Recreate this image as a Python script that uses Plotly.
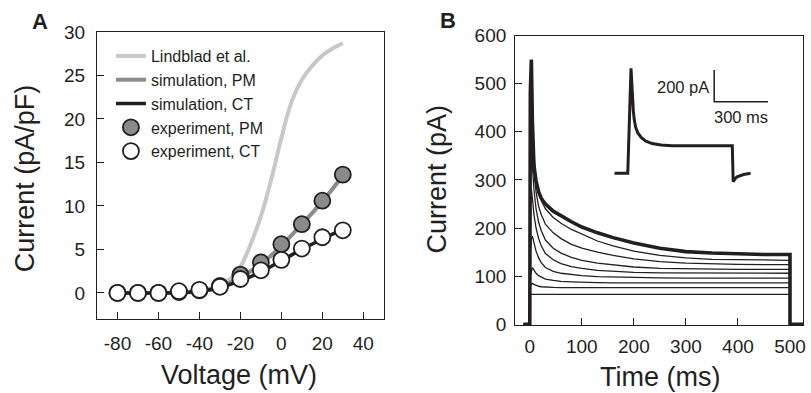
import plotly.graph_objects as go

# ---------------- Panel A data (I-V relations) ----------------
voltage = [-80, -70, -60, -50, -40, -30, -20, -10, 0, 10, 20, 30]
exp_pm = [0.0, 0.0, 0.0, 0.1, 0.3, 0.8, 2.1, 3.5, 5.6, 7.9, 10.6, 13.6]
exp_ct = [0.0, 0.0, 0.0, 0.2, 0.35, 0.7, 1.6, 2.6, 3.8, 5.1, 6.4, 7.2]
sim_pm = [0.0, 0.0, 0.0, 0.05, 0.2, 0.7, 1.8, 3.3, 5.4, 7.9, 10.5, 13.5]
sim_ct = [0.0, 0.0, 0.0, 0.05, 0.2, 0.6, 1.4, 2.4, 3.7, 5.0, 6.2, 7.3]
lind_v = [-40, -35, -30, -25, -20, -15, -10, -5, 0, 5, 10, 15, 20, 25, 30]
lind_i = [0.3, 0.5, 0.9, 1.6, 3.0, 5.6, 8.8, 13.0, 17.8, 22.0, 24.5, 26.1, 27.3, 28.1, 28.7]
a_xticks = [-80, -60, -40, -20, 0, 20, 40]
a_xlabels = ["-80", "-60", "-40", "-20", "0", "20", "40"]
a_yticks = [0, 5, 10, 15, 20, 25, 30]

# ---------------- Panel B data (current traces) ----------------
t_grid = [1, 3, 5, 8, 12, 17, 22, 30, 45, 60, 80, 100, 130, 160, 200, 250, 300, 350, 400, 450, 497]
traces_b = [
    [62, 62, 62, 62, 62, 62, 62, 62, 62, 62, 62, 62, 62, 62, 62, 62, 62, 62, 62, 62, 62],
    [80, 84, 85, 83, 81, 79, 78, 77, 76.5, 76, 76, 76, 76, 76, 76, 76, 76, 76, 76, 76, 76],
    [100, 112, 118, 113, 106, 101, 98, 94, 91, 89, 88, 87, 86.5, 86, 86, 86, 86, 86, 86, 86, 86],
    [150, 178, 183, 168, 152, 138, 128, 118, 110, 106, 103, 101, 99, 98, 97, 96.5, 96, 96, 96, 96, 96],
    [230, 281, 262, 228, 200, 178, 163, 147, 134, 126, 120, 116, 112, 110, 108, 107, 106.5, 106, 106, 106, 106],
    [300, 360, 330, 280, 240, 212, 195, 175, 158, 148, 139, 133, 127, 123, 119, 116, 115, 114.5, 114, 114, 114],
    [360, 430, 385, 320, 275, 245, 228, 208, 190, 178, 166, 158, 150, 143, 136, 130, 127, 125, 124.5, 124, 124],
    [420, 490, 430, 350, 300, 272, 257, 240, 222, 210, 197, 187, 173, 163, 152, 143, 138, 135, 134, 133, 133],
    [480, 550, 420, 330, 298, 275, 262, 250, 235, 225, 213, 202, 190, 180, 169, 158, 151, 148, 146, 145, 145],
]
t_pre = [-12, 0]
t_post = [500, 500, 525]
b_xticks = [0, 100, 200, 300, 400, 500]
b_yticks = [0, 100, 200, 300, 400, 500, 600]

# inset trace (ms, pA) and scale bar
inset_t = [0, 74, 92, 96, 100, 105, 110, 118, 130, 150, 175, 210, 259, 320, 657, 662, 672, 684, 720, 759]
inset_i = [0, 0, 665, 560, 470, 395, 340, 292, 255, 225, 203, 188, 179, 175, 175, -53, -35, -22, -8, 0]
bar_t0, bar_i0 = 556, 453
bar_len_t, bar_len_i = 300, 200

# ---------------- styling ----------------
INK = "#231f20"
FONT = "Liberation Sans, Arial, Helvetica, sans-serif"
W, H = 811, 393
ML, MR, MT, MB = 97, 5, 32, 68
PW, PH = W - ML - MR, H - MT - MB


def px(x, y):
    return (x - ML) / PW, (MT + PH - y) / PH


fig = go.Figure()

# Panel A
fig.add_trace(go.Scatter(x=lind_v, y=lind_i, mode="lines", name="Lindblad et al.",
                         line=dict(color="#c8c8c8", width=4, shape="spline"),
                         xaxis="x", yaxis="y"))
fig.add_trace(go.Scatter(x=voltage, y=sim_pm, mode="lines", name="simulation, PM",
                         line=dict(color="#8c8c8c", width=4, shape="spline"),
                         xaxis="x", yaxis="y"))
fig.add_trace(go.Scatter(x=voltage, y=sim_ct, mode="lines", name="simulation, CT",
                         line=dict(color=INK, width=3.5, shape="spline"),
                         xaxis="x", yaxis="y"))
fig.add_trace(go.Scatter(x=voltage, y=exp_pm, mode="markers", name="experiment, PM",
                         marker=dict(size=16, color="#8a8a8a", line=dict(color=INK, width=1.8)),
                         xaxis="x", yaxis="y"))
fig.add_trace(go.Scatter(x=voltage, y=exp_ct, mode="markers", name="experiment, CT",
                         marker=dict(size=16, color="white", line=dict(color=INK, width=1.8)),
                         xaxis="x", yaxis="y"))

# Panel B traces
for k, vals in enumerate(traces_b):
    ss = vals[-1]
    xs = t_pre + t_grid + t_post
    ys = [0, 0] + vals + [ss, 0, 0]
    thick = k == len(traces_b) - 1
    fig.add_trace(go.Scatter(x=xs, y=ys, mode="lines", showlegend=False,
                             line=dict(color=INK, width=3.6 if thick else 1.3),
                             xaxis="x2", yaxis="y2"))

# Inset
fig.add_trace(go.Scatter(x=inset_t, y=inset_i, mode="lines", showlegend=False,
                         line=dict(color=INK, width=3),
                         xaxis="x3", yaxis="y3"))
fig.add_trace(go.Scatter(x=[bar_t0, bar_t0, bar_t0 + bar_len_t],
                         y=[bar_i0 + bar_len_i, bar_i0, bar_i0],
                         mode="lines", showlegend=False,
                         line=dict(color=INK, width=1.5),
                         xaxis="x3", yaxis="y3"))

axis_common = dict(showline=True, linecolor=INK, linewidth=1.3, mirror=True,
                   ticks="inside", ticklen=7, tickwidth=1.3, tickcolor=INK,
                   showgrid=False, zeroline=False,
                   tickfont=dict(family=FONT, size=19, color=INK))

ax0, _ = px(97, 0)
ax1, _ = px(385, 0)
_, ay0 = px(0, 319)
_, ay1 = px(0, 32)
bx0, _ = px(517, 0)
bx1, _ = px(806, 0)
_, by0 = px(0, 325)
_, by1 = px(0, 35.5)
ix0, iy0 = px(600, 190)
ix1, iy1 = px(780, 60)

fig.update_layout(
    width=W, height=H,
    margin=dict(l=ML, r=MR, t=MT, b=MB),
    paper_bgcolor="white", plot_bgcolor="white",
    font=dict(family=FONT, color=INK),
    xaxis=dict(domain=[ax0, ax1], range=[-90, 50], tickvals=a_xticks, ticktext=a_xlabels,
               ticklabelstandoff=7, anchor="y", **axis_common),
    yaxis=dict(domain=[ay0, ay1], range=[-3, 30], tickvals=a_yticks,
               ticklabelstandoff=7, anchor="x", **axis_common),
    xaxis2=dict(domain=[bx0, bx1], range=[-28, 525], tickvals=b_xticks,
                ticklabelstandoff=4, anchor="y2", **axis_common),
    yaxis2=dict(domain=[by0, by1], range=[-1.5, 600], tickvals=b_yticks,
                ticklabelstandoff=4, anchor="x2", **axis_common),
    xaxis3=dict(domain=[ix0, ix1], range=[-92.8, 907], visible=False, anchor="y3"),
    yaxis3=dict(domain=[iy0, iy1], range=[-105.7, 717], visible=False, anchor="x3"),
    legend=dict(x=px(111, 0)[0], y=px(0, 39)[1], xanchor="left", yanchor="top",
                bgcolor="rgba(0,0,0,0)", font=dict(family=FONT, size=16, color=INK),
                itemwidth=30, tracegroupgap=0),
    showlegend=True,
)

annotations = []


def add_text(text, x, y, size, rot=0, bold=False, xanchor="center", yanchor="middle"):
    xp, yp = px(x, y)
    annotations.append(dict(text=("<b>%s</b>" % text) if bold else text, x=xp, y=yp,
                            xref="paper", yref="paper", showarrow=False, textangle=rot,
                            xanchor=xanchor, yanchor=yanchor,
                            font=dict(family=FONT, size=size, color=INK)))


add_text("A", 40, 21, 22, bold=True)
add_text("B", 449, 20, 22, bold=True)
add_text("Current (pA/pF)", 25, 178, 27, rot=-90)
add_text("Voltage (mV)", 240, 375, 27)
add_text("Current (pA)", 438, 179, 27, rot=-90)
add_text("Time (ms)", 662, 377, 27)
fig.update_layout(annotations=annotations)

# scale-bar labels in inset data coordinates
fig.add_annotation(text="200 pA", x=bar_t0 - 20, y=bar_i0 + 95, xref="x3", yref="y3",
                   showarrow=False, xanchor="right", yanchor="middle",
                   font=dict(family=FONT, size=16.5, color=INK))
fig.add_annotation(text="300 ms", x=bar_t0 + bar_len_t / 2, y=bar_i0 - 97, xref="x3", yref="y3",
                   showarrow=False, xanchor="center", yanchor="middle",
                   font=dict(family=FONT, size=16.5, color=INK))

fig.write_html("out.html")
